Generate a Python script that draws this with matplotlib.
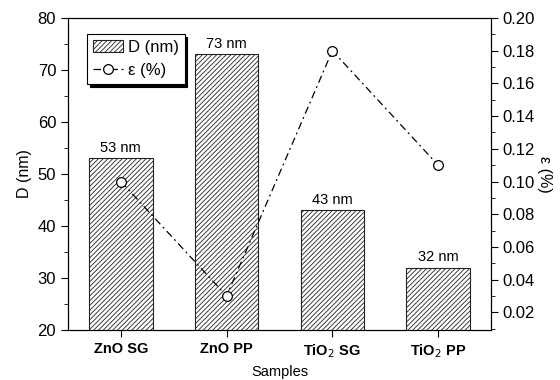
import matplotlib.pyplot as plt
from matplotlib.ticker import MultipleLocator

# Data
samples = ["ZnO SG", "ZnO PP", "TiO$_2$ SG", "TiO$_2$ PP"]
size_nm = [53, 73, 43, 32]
strain_pct = [0.10, 0.03, 0.18, 0.11]
bar_labels = ["53 nm", "73 nm", "43 nm", "32 nm"]

plt.rcParams['font.family'] = ['Liberation Sans', 'DejaVu Sans']
plt.rcParams['hatch.linewidth'] = 0.6

fig = plt.figure(figsize=(5.6, 3.8), dpi=100)
ax = fig.add_axes([68 / 560, 1 - 330 / 380, 423 / 560, 312 / 380])

x = list(range(len(samples)))
bars = ax.bar(x, size_nm, width=0.6, bottom=0, color='white', edgecolor='#222222',
              hatch='///////', linewidth=0.8, label='D (nm)', zorder=2)
for xi, v, lab in zip(x, size_nm, bar_labels):
    ax.text(xi, v + 0.6, lab, ha='center', va='bottom', fontsize=10.5)

ax.set_xlim(-0.5, 3.5)
ax.set_ylim(20, 80)
ax.set_xticks(x)
ax.set_xticklabels(samples, fontweight='bold', fontsize=10.5)
ax.set_xlabel("Samples", fontsize=10.5, labelpad=4)
ax.set_ylabel("D (nm)", fontsize=11.5)
ax.yaxis.set_major_locator(MultipleLocator(10))
ax.yaxis.set_minor_locator(MultipleLocator(5))
ax.tick_params(axis='y', which='major', length=5, labelsize=12, direction='out')
ax.tick_params(axis='y', which='minor', length=3, direction='out')
ax.tick_params(axis='x', length=5, direction='out')

ax2 = ax.twinx()
line, = ax2.plot(x, strain_pct, color='black', linewidth=0.9,
                 linestyle=(0, (6, 3, 1.5, 3)), marker='o', markersize=7,
                 markerfacecolor='white', markeredgecolor='black',
                 markeredgewidth=0.9, label='ε (%)', zorder=3)
ax2.set_ylim(0.0092, 0.20)
ax2.yaxis.set_major_locator(MultipleLocator(0.02))
ax2.yaxis.set_minor_locator(MultipleLocator(0.01))
ax2.yaxis.set_major_formatter(lambda v, p: f"{v:.2f}")
ax2.tick_params(axis='y', which='major', length=5, labelsize=12, direction='out')
ax2.tick_params(axis='y', which='minor', length=3, direction='out')
ax2.set_ylabel("ε (%)", rotation=270, labelpad=12, fontsize=11.5)

leg = ax.legend([bars, line], ['D (nm)', 'ε (%)'], loc='upper left',
                bbox_to_anchor=(0.025, 0.975), fancybox=False,
                shadow={'color': 'black', 'alpha': 1},
                edgecolor='black', framealpha=1, fontsize=12, handlelength=1.8,
                borderpad=0.35, labelspacing=0.5, handletextpad=0.3)
leg.get_frame().set_linewidth(0.8)

fig.savefig('out.png', dpi=100)
